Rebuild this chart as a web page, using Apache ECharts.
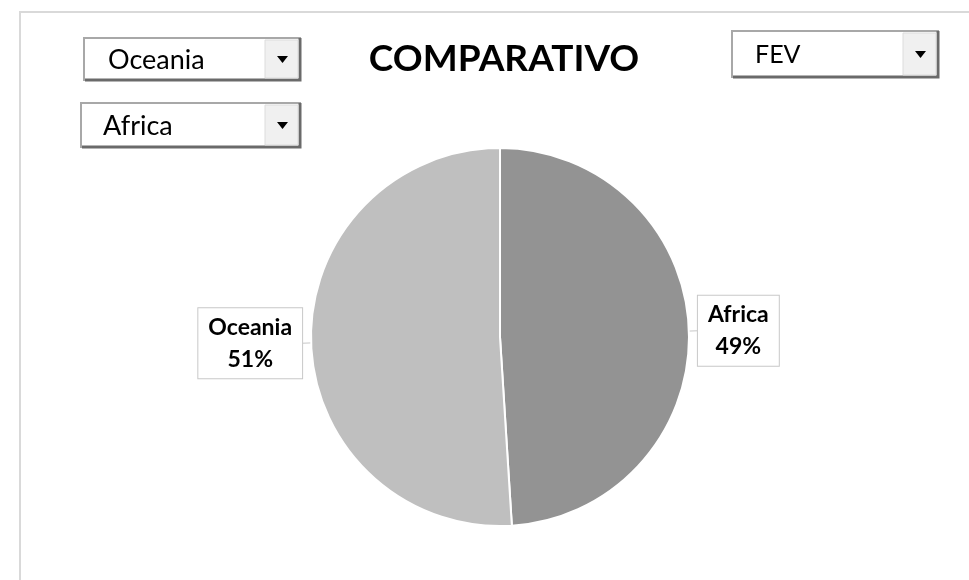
<!DOCTYPE html>
<html>
<head>
<meta charset="utf-8">
<script src="https://cdn.jsdelivr.net/npm/echarts@6/dist/echarts.min.js"></script>
<style>
  html, body { margin: 0; padding: 0; background: #ffffff; }
  #chart { width: 969px; height: 580px; }
</style>
</head>
<body>
<div id="chart"></div>
<script>
// ---- data ----
const title = 'COMPARATIVO';
const categories = ['Africa', 'Oceania'];
const values = [49, 51];
const sliceColors = ['#939393', '#bfbfbf'];
const dropdownTexts = ['Oceania', 'Africa', 'FEV'];

const FONT = 'Lato, "Open Sans", sans-serif';

function dropdown(x, y, w, h, text, textX, fontSize) {
  const bw = 34;
  return {
    type: 'group',
    children: [
      { type: 'rect', shape: { x: x, y: y, width: w, height: h },
        style: { fill: '#ffffff', stroke: '#a8a8a8', lineWidth: 2 } },
      { type: 'polyline', shape: { points: [[x + 1, y + h], [x + w, y + h], [x + w, y]] },
        style: { stroke: '#6a6a6a', lineWidth: 3, fill: null } },
      { type: 'rect', shape: { x: x + w - bw - 1, y: y + 2, width: bw - 1, height: h - 4 },
        style: { fill: '#f0f0f0', stroke: '#dcdcdc', lineWidth: 1 } },
      { type: 'polygon', shape: { points: [
          [x + w - bw / 2 - 6, y + h / 2 - 3],
          [x + w - bw / 2 + 5, y + h / 2 - 3],
          [x + w - bw / 2 - 0.5, y + h / 2 + 4]] },
        style: { fill: '#000000' } },
      { type: 'text', x: textX, y: y + h / 2 + 1,
        style: { text: text, fill: '#000000', font: fontSize + 'px ' + FONT,
                 textVerticalAlign: 'middle', textAlign: 'left' } }
    ]
  };
}

const chart = echarts.init(document.getElementById('chart'));
chart.setOption({
  backgroundColor: '#ffffff',
  animation: false,
  title: {
    text: title,
    left: 499, top: 36,
    textAlign: 'center',
    textStyle: { fontFamily: FONT, fontWeight: 'bold', fontSize: 37, color: '#000000' }
  },
  graphic: [
    { type: 'rect', shape: { x: 20, y: 12, width: 1000, height: 620 },
      style: { fill: null, stroke: '#d9d9d9', lineWidth: 2 } },
    dropdown(84, 38, 216, 42, dropdownTexts[0], 108, 27),
    dropdown(81, 103, 219, 44, dropdownTexts[1], 103, 27),
    dropdown(732, 31, 206, 46, dropdownTexts[2], 755, 25)
  ],
  series: [{
    type: 'pie',
    center: [500, 337],
    radius: 189,
    startAngle: 90,
    clockwise: true,
    color: sliceColors,
    itemStyle: { borderColor: '#ffffff', borderWidth: 2 },
    label: {
      show: true,
      position: 'outside',
      formatter: '{t|{b}}\n{t|{d}%}',
      backgroundColor: '#ffffff',
      borderColor: '#c8c8c8',
      borderWidth: 1,
      padding: [3, 10],
      distanceToLabelLine: 0,
      rich: {
        t: {
          fontFamily: FONT,
          fontWeight: 'bold',
          fontSize: 23,
          lineHeight: 32,
          color: '#000000',
          align: 'center'
        }
      }
    },
    labelLine: { show: true, length: 9, length2: 0, lineStyle: { color: '#c8c8c8', width: 1 } },
    emphasis: { disabled: true },
    data: categories.map((c, i) => ({ name: c, value: values[i] }))
  }]
});
</script>
</body>
</html>
